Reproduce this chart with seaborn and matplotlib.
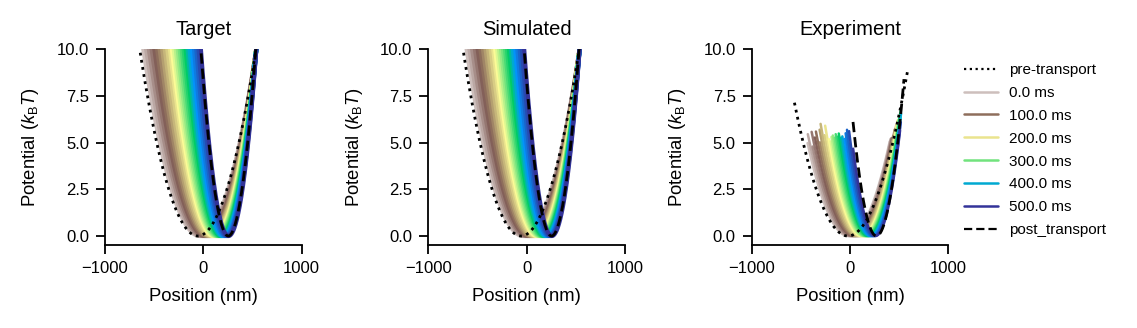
import numpy as np
import pandas as pd
import matplotlib
matplotlib.use("Agg")
import matplotlib.pyplot as plt
from matplotlib.lines import Line2D
import seaborn as sns

# ---------------- data ----------------
times_ms = [0, 20, 40, 60, 80, 100, 120, 140, 160, 180, 200, 220, 240,
            260, 280, 300, 320, 340, 360, 380, 400, 420, 440, 460, 480, 500]

# target / simulated trap: centre (nm) and stiffness (kT / um^2)
target_center_nm = [-35, -21, -7, 7, 21, 35, 48, 61, 74, 87, 100, 110, 120,
                    130, 140, 150, 160, 170, 180, 190, 200, 212, 223, 235, 246, 258]
target_stiffness = [30.2, 31.8, 33.4, 35.2, 37.1, 39.2, 41.3, 43.6, 46.0, 48.7,
                    51.7, 54.1, 56.7, 59.5, 62.5, 65.7, 69.3, 73.0, 77.2, 81.6,
                    86.5, 92.7, 99.5, 107.1, 115.7, 125.3]
sim_center_nm = list(target_center_nm)
sim_stiffness = list(target_stiffness)

pre_center_nm, pre_stiffness = -55, 28.5
post_center_nm, post_stiffness = 255, 128.0

# experiment: fitted centre / stiffness and sampled position range per curve
exp_center_nm = [-15, -2, 11, 24, 38, 51, 63, 75, 87, 100, 112, 121, 131,
                 140, 150, 159, 168, 178, 187, 197, 206, 217, 228, 238, 249, 260]
exp_stiffness = [28.7, 29.9, 31.1, 32.5, 33.9, 35.4, 37.0, 38.6, 40.3, 42.2,
                 44.4, 45.9, 47.6, 49.4, 51.3, 53.3, 55.6, 57.9, 60.6, 63.3,
                 66.3, 70.2, 74.4, 79.1, 84.4, 90.2]
exp_xmin_nm = [-432, -429, -382, -391, -357, -347, -305, -309, -299, -258, -253,
               -216, -196, -188, -174, -156, -145, -126, -114, -92, -78, -55,
               -44, -30, -9, 32]
exp_xmax_nm = [405, 415, 420, 425, 430, 440, 455, 460, 470, 475, 485, 486, 492,
               494, 500, 505, 515, 510, 518, 513, 520, 512, 512, 509, 518, 511]

exp_pre_center_nm, exp_pre_stiffness = -20, 24.0
exp_pre_range_nm = [-565, 585]
exp_post_center_nm, exp_post_stiffness = 270, 107.0
exp_post_range_nm = [31, 551]

legend_times_ms = [0, 100, 200, 300, 400, 500]
panel_titles = ["Target", "Simulated", "Experiment"]
xticks = [-1000, 0, 1000]
yticks = [0.0, 2.5, 5.0, 7.5, 10.0]

# ---------------- style ----------------
sns.set_theme(style="ticks")
plt.rcParams['font.family'] = ['Liberation Sans', 'DejaVu Sans']
plt.rcParams['mathtext.fontset'] = 'custom'
plt.rcParams['mathtext.rm'] = 'Liberation Sans'
plt.rcParams['mathtext.it'] = 'Liberation Sans:italic'
plt.rcParams['mathtext.bf'] = 'Liberation Sans:bold'
plt.rcParams['axes.linewidth'] = 1.3
plt.rcParams['xtick.major.width'] = 1.3
plt.rcParams['ytick.major.width'] = 1.3
plt.rcParams['xtick.major.size'] = 6.5
plt.rcParams['ytick.major.size'] = 6.5
plt.rcParams['xtick.major.pad'] = 5
plt.rcParams['ytick.major.pad'] = 5
for key in ['xtick.color', 'ytick.color', 'axes.edgecolor', 'text.color',
            'axes.labelcolor', 'axes.titlecolor', 'xtick.labelcolor',
            'ytick.labelcolor']:
    plt.rcParams[key] = 'black'

cmap = plt.get_cmap('terrain_r')


def time_color(t):
    return cmap(0.1 + 0.9 * t / 500.0)


palette = {t: time_color(t) for t in times_ms}
xgrid = np.linspace(-1000, 1000, 1601)


def curve_frame(centers, stiff, xmins=None, xmaxs=None):
    rows = []
    for i, t in enumerate(times_ms):
        lo = -1000 if xmins is None else xmins[i]
        hi = 1000 if xmaxs is None else xmaxs[i]
        x = xgrid[(xgrid >= lo) & (xgrid <= hi)]
        u = stiff[i] * 1e-6 * (x - centers[i]) ** 2
        keep = u <= 10.6
        rows.append(pd.DataFrame({'x': x[keep], 'U': u[keep], 't': t}))
    return pd.concat(rows, ignore_index=True)


def single_curve(center, stiff, lo=-1000, hi=1000):
    x = xgrid[(xgrid >= lo) & (xgrid <= hi)]
    u = stiff * 1e-6 * (x - center) ** 2
    keep = u <= 10.6
    return pd.DataFrame({'x': x[keep], 'U': u[keep]})


panels = [
    (curve_frame(target_center_nm, target_stiffness),
     single_curve(pre_center_nm, pre_stiffness),
     single_curve(post_center_nm, post_stiffness), 3.0),
    (curve_frame(sim_center_nm, sim_stiffness),
     single_curve(pre_center_nm, pre_stiffness),
     single_curve(post_center_nm, post_stiffness), 3.0),
    (curve_frame(exp_center_nm, exp_stiffness, exp_xmin_nm, exp_xmax_nm),
     single_curve(exp_pre_center_nm, exp_pre_stiffness, *exp_pre_range_nm),
     single_curve(exp_post_center_nm, exp_post_stiffness, *exp_post_range_nm), 1.8),
]

# ---------------- figure ----------------
fig = plt.figure(figsize=(11.37, 3.28), dpi=100)
W, H = 1137.0, 328.0
ax_lefts = [105.0, 428.3, 751.7]
ax_w = 196.5
ax_bottom = 1 - 245.0 / H
ax_h = (245.0 - 49.0) / H

for k, (df, pre, post, lw) in enumerate(panels):
    ax = fig.add_axes([ax_lefts[k] / W, ax_bottom, ax_w / W, ax_h])
    sns.lineplot(data=df, x='x', y='U', hue='t', hue_order=times_ms,
                 palette=palette, estimator=None, sort=False, legend=False,
                 lw=lw, ax=ax)
    sns.lineplot(data=pre, x='x', y='U', color='black', linestyle=(0, (1, 1.6)),
                 lw=2.0, estimator=None, sort=False, ax=ax, zorder=5)
    sns.lineplot(data=post, x='x', y='U', color='black', linestyle=(0, (3.7, 1.8)),
                 lw=2.0, estimator=None, sort=False, ax=ax, zorder=6)
    ax.set_xlim(-1000, 1000)
    ax.set_ylim(-0.48, 10)
    ax.set_xticks(xticks)
    ax.set_yticks(yticks)
    ax.yaxis.set_major_formatter(matplotlib.ticker.FormatStrFormatter('%.1f'))
    ax.tick_params(labelsize=12)
    ax.set_xlabel('Position (nm)', fontsize=13.3, labelpad=9)
    ax.set_ylabel(r'Potential ($k_\mathrm{B}T$)', fontsize=13.3, labelpad=11)
    ax.set_title(panel_titles[k], fontsize=14.5, pad=10)
    sns.despine(ax=ax)

handles = [Line2D([], [], color='black', linestyle=(0, (1, 1.6)), lw=1.6)]
labels = ['pre-transport']
for t in legend_times_ms:
    handles.append(Line2D([], [], color=time_color(t), lw=1.8))
    labels.append(f'{float(t):.1f} ms')
handles.append(Line2D([], [], color='black', linestyle=(0, (3.7, 1.8)), lw=1.6))
labels.append('post_transport')

fig.legend(handles, labels, loc='upper left', bbox_to_anchor=(958 / W, 1 - 57 / H),
           frameon=False, fontsize=11, handlelength=2.2, handletextpad=0.75,
           labelspacing=0.58, borderaxespad=0.0)

fig.savefig('out.png', dpi=100)
